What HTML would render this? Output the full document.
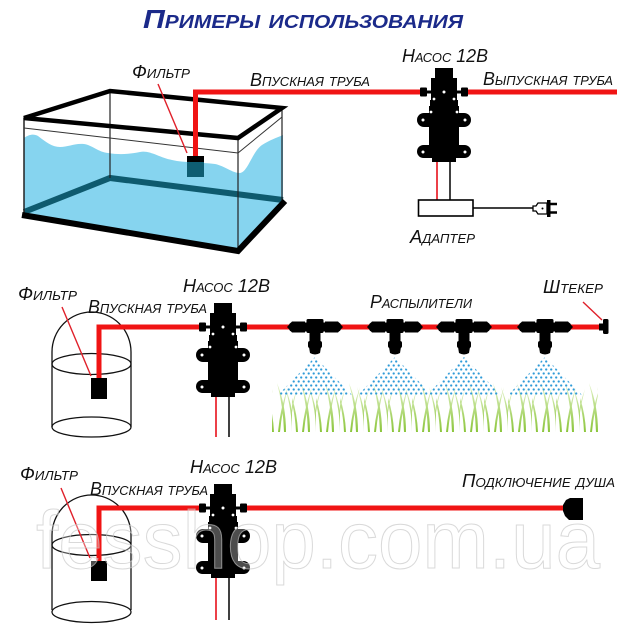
<!DOCTYPE html>
<html><head><meta charset="utf-8"><style>
html,body{margin:0;padding:0;background:#fff;overflow:hidden;}
svg{display:block;}
.l{font-family:"Liberation Sans","DejaVu Sans",sans-serif;font-style:italic;font-variant:small-caps;font-size:18px;fill:#111;}
.t{font-family:"Liberation Sans","DejaVu Sans",sans-serif;font-style:italic;font-weight:bold;font-variant:small-caps;font-size:26px;fill:#1b2a8a;}
</style></head><body>
<svg width="640" height="640" viewBox="0 0 640 640" xmlns="http://www.w3.org/2000/svg">
<defs>
  <pattern id="dots" width="5" height="8" patternUnits="userSpaceOnUse">
    <circle cx="1.2" cy="1.5" r="1.15" fill="#2f9bd8"/>
    <circle cx="3.7" cy="5.5" r="1.15" fill="#2f9bd8"/>
  </pattern>
  <linearGradient id="gg" x1="0" y1="1" x2="0" y2="0">
    <stop offset="0" stop-color="#8cc63c"/>
    <stop offset="1" stop-color="#e2f2c8"/>
  </linearGradient>
  <pattern id="grass" x="268" y="381" width="24" height="51" patternUnits="userSpaceOnUse">
    <path d="M4,51 Q3,28 -5,4 Q5,26 6,51 Z" fill="url(#gg)"/>
    <path d="M10,51 Q12,28 20,6 Q14,30 12,51 Z" fill="url(#gg)"/>
    <path d="M16,51 Q15,24 9,2 Q18,24 18,51 Z" fill="url(#gg)"/>
    <path d="M-4,51 Q-3,30 5,8 Q-1,30 -2,51 Z" fill="url(#gg)"/>
    <path d="M24,51 Q24,30 17,6 Q26,28 26,51 Z" fill="url(#gg)"/>
  </pattern>
  <g id="pump">
    <rect x="-9" y="-24" width="18" height="12" fill="#000"/>
    <rect x="-13" y="-14" width="26" height="24" fill="#000"/>
    <rect x="-24" y="-4.5" width="7" height="9" rx="1" fill="#000"/>
    <rect x="17" y="-4.5" width="7" height="9" rx="1" fill="#000"/>
    <rect x="-18" y="-1.5" width="36" height="3" fill="#000"/>
    <rect x="-14" y="8" width="28" height="58" fill="#000"/>
    <rect x="-15" y="14" width="30" height="48" fill="#000"/>
    <rect x="-27" y="21" width="54" height="14" rx="7" fill="#000"/>
    <rect x="-27" y="53" width="54" height="13" rx="6.5" fill="#000"/>
    <rect x="-12" y="60" width="24" height="10" fill="#000"/>
    <g fill="#fff">
      <circle cx="0" cy="0" r="1.5"/>
      <circle cx="-10" cy="7" r="1.4"/>
      <circle cx="10" cy="7" r="1.4"/>
      <circle cx="-13" cy="20" r="1.4"/>
      <circle cx="13" cy="20" r="1.4"/>
      <circle cx="-21" cy="28" r="1.5"/>
      <circle cx="21" cy="28" r="1.5"/>
      <circle cx="-21" cy="60" r="1.5"/>
      <circle cx="21" cy="60" r="1.5"/>
    </g>
  </g>
  <g id="tee" fill="#000">
    <rect x="-26" y="-4.5" width="52" height="9" rx="3"/>
    <path d="M-28,0 L-23,-5.5 L-10,-5.5 L-10,5.5 L-23,5.5 Z"/>
    <path d="M28,0 L23,-5.5 L10,-5.5 L10,5.5 L23,5.5 Z"/>
    <rect x="-8.5" y="-8" width="17" height="14" rx="1.5"/>
    <rect x="-5.5" y="0" width="11" height="22"/>
    <rect x="-7" y="14" width="14" height="7" rx="2"/>
    <path d="M-6,20 L-5,26 Q0,29 5,26 L6,20 Z"/>
  </g>
</defs>

<!-- Title -->
<text class="t" x="143" y="28" textLength="320" lengthAdjust="spacingAndGlyphs">Примеры использования</text>

<!-- ===== Section 1: aquarium ===== -->
<path d="M24,138 C30,134 34,134 38,136 C46,142 52,147 60,147 C68,147 75,143 84,144 C92,145 98,152 108,153 C120,155 130,154 140,152 C150,150 160,158 172,160 C185,163 200,162 215,164 C225,166 232,173 240,173 C248,172 252,152 262,145 C270,140 276,138 283,135 L283,201 L238,249 L24,213 Z" fill="#86d4ef"/>
<polyline points="24,212 110,178 283,200" fill="none" stroke="#0e5a6e" stroke-width="6"/>
<line x1="110" y1="91" x2="110" y2="178" stroke="#222" stroke-width="1.2"/>
<line x1="24" y1="118" x2="24" y2="214" stroke="#222" stroke-width="1.5"/>
<line x1="238" y1="138" x2="238" y2="249" stroke="#222" stroke-width="1.2"/>
<line x1="282" y1="108" x2="282" y2="201" stroke="#222" stroke-width="1.2"/>
<polyline points="24,128 238,153 282,117" fill="none" stroke="#333" stroke-width="1"/>
<rect x="187" y="156" width="17" height="21" fill="#0e5d72"/>
<rect x="187" y="156" width="17" height="6" fill="#000"/>
<polyline points="22,215 238,251 285,201" fill="none" stroke="#000" stroke-width="6" stroke-linejoin="miter"/>
<polygon points="24,118 110,91 282,108 238,138" fill="none" stroke="#000" stroke-width="4.5" stroke-linejoin="miter"/>

<!-- pipe S1 -->
<path d="M195.5,156 V92 H420" fill="none" stroke="#f01414" stroke-width="5" stroke-linejoin="miter"/>
<line x1="467" y1="92" x2="617" y2="92" stroke="#f01414" stroke-width="5"/>
<line x1="158" y1="84" x2="187" y2="153" stroke="#e0202a" stroke-width="1.4"/>

<use href="#pump" transform="translate(444,92)"/>
<line x1="437" y1="162" x2="437" y2="200" stroke="#e8101a" stroke-width="1.6"/>
<line x1="450" y1="162" x2="450" y2="200" stroke="#111" stroke-width="1.6"/>
<!-- adapter -->
<rect x="418.5" y="200" width="54.5" height="16" fill="#fff" stroke="#000" stroke-width="1.6"/>
<line x1="473" y1="208" x2="533" y2="208" stroke="#000" stroke-width="1.6"/>
<path d="M533,206 L536,206 L538,203 L547,203 L547,214 L538,214 L536,211 L533,211 Z" fill="#fff" stroke="#000" stroke-width="1.3"/>
<circle cx="542.5" cy="208.5" r="1" fill="#000"/>
<rect x="547" y="200" width="3.5" height="17" fill="#000"/>
<line x1="550" y1="204" x2="557" y2="204" stroke="#000" stroke-width="2.5"/>
<line x1="550" y1="212.5" x2="557" y2="212.5" stroke="#000" stroke-width="2.5"/>

<text class="l" x="132" y="78" textLength="58" lengthAdjust="spacingAndGlyphs">Фильтр</text>
<text class="l" x="250" y="86" textLength="120" lengthAdjust="spacingAndGlyphs">Впускная труба</text>
<text class="l" x="402" y="62" textLength="86" lengthAdjust="spacingAndGlyphs">Насос 12В</text>
<text class="l" x="483" y="85" textLength="130" lengthAdjust="spacingAndGlyphs">Выпускная труба</text>
<text class="l" x="410" y="243" textLength="65" lengthAdjust="spacingAndGlyphs">Адаптер</text>

<!-- ===== Section 2: sprayers ===== -->
<path d="M52,427 V352 A39.5,40 0 0 1 131,352 V427" fill="none" stroke="#111" stroke-width="1.3"/>
<ellipse cx="91.5" cy="364" rx="39.5" ry="10.5" fill="none" stroke="#111" stroke-width="1.3"/>
<ellipse cx="91.5" cy="427" rx="39.5" ry="10" fill="none" stroke="#111" stroke-width="1.3"/>
<rect x="91" y="378" width="16" height="21" fill="#000"/>
<path d="M99,378 V327 H199" fill="none" stroke="#f01414" stroke-width="5" stroke-linejoin="miter"/>
<line x1="62" y1="307" x2="91" y2="376" stroke="#e0202a" stroke-width="1.4"/>
<line x1="247" y1="327" x2="601" y2="327" stroke="#f01414" stroke-width="5"/>

<use href="#pump" transform="translate(223,327)"/>
<line x1="216" y1="397" x2="216" y2="437" stroke="#e8101a" stroke-width="1.6"/>
<line x1="229" y1="397" x2="229" y2="437" stroke="#111" stroke-width="1.6"/>

<!-- grass -->
<rect x="272" y="381" width="326" height="51" fill="url(#grass)"/>
<!-- sprays -->
<polygon points="315,357 278,395 352,395" fill="url(#dots)"/>
<polygon points="395,357 358,395 432,395" fill="url(#dots)"/>
<polygon points="464,357 427,395 501,395" fill="url(#dots)"/>
<polygon points="545,357 508,395 582,395" fill="url(#dots)"/>
<!-- tees -->
<use href="#tee" transform="translate(315,327)"/>
<use href="#tee" transform="translate(395,327)"/>
<use href="#tee" transform="translate(464,327)"/>
<use href="#tee" transform="translate(545,327)"/>
<!-- end plug -->
<rect x="599" y="323.5" width="5" height="7" fill="#000"/>
<rect x="603" y="319" width="5.5" height="15" rx="1.5" fill="#000"/>
<line x1="583" y1="302" x2="602" y2="320" stroke="#e0202a" stroke-width="1.4"/>

<text class="l" x="18" y="300" textLength="59" lengthAdjust="spacingAndGlyphs">Фильтр</text>
<text class="l" x="88" y="313" textLength="119" lengthAdjust="spacingAndGlyphs">Впускная труба</text>
<text class="l" x="183" y="292" textLength="87" lengthAdjust="spacingAndGlyphs">Насос 12В</text>
<text class="l" x="370" y="308" textLength="102" lengthAdjust="spacingAndGlyphs">Распылители</text>
<text class="l" x="543" y="293" textLength="60" lengthAdjust="spacingAndGlyphs">Штекер</text>

<!-- ===== Section 3: shower ===== -->
<path d="M52,610 V535 A39.5,40 0 0 1 131,535 V610" fill="none" stroke="#111" stroke-width="1.3"/>
<ellipse cx="91.5" cy="545" rx="39.5" ry="10.5" fill="none" stroke="#111" stroke-width="1.3"/>
<ellipse cx="91.5" cy="612" rx="39.5" ry="10.5" fill="none" stroke="#111" stroke-width="1.3"/>
<rect x="91" y="561" width="16" height="20" fill="#000"/>
<path d="M99,561 V508 H199" fill="none" stroke="#f01414" stroke-width="5" stroke-linejoin="miter"/>
<line x1="61" y1="488" x2="90" y2="558" stroke="#e0202a" stroke-width="1.4"/>
<line x1="247" y1="508" x2="566" y2="508" stroke="#f01414" stroke-width="5"/>
<path d="M570,498 H583 V520 H569 L565,516 L563,511 V505 L566,500 Z" fill="#000"/>

<use href="#pump" transform="translate(223,508)"/>
<line x1="216" y1="578" x2="216" y2="620" stroke="#e8101a" stroke-width="1.6"/>
<line x1="229" y1="578" x2="229" y2="620" stroke="#111" stroke-width="1.6"/>

<text class="l" x="20" y="480" textLength="58" lengthAdjust="spacingAndGlyphs">Фильтр</text>
<text class="l" x="90" y="495" textLength="118" lengthAdjust="spacingAndGlyphs">Впускная труба</text>
<text class="l" x="190" y="473" textLength="87" lengthAdjust="spacingAndGlyphs">Насос 12В</text>
<text class="l" x="462" y="487" textLength="153" lengthAdjust="spacingAndGlyphs">Подключение душа</text>

<!-- watermark -->
<text x="36" y="568" font-family="Liberation Sans, sans-serif" font-size="82" textLength="564" lengthAdjust="spacingAndGlyphs" fill="#ffffff" fill-opacity="0.3" stroke="#c4c4c4" stroke-width="1" stroke-opacity="0.65">fesshop.com.ua</text>
</svg>
</body></html>
